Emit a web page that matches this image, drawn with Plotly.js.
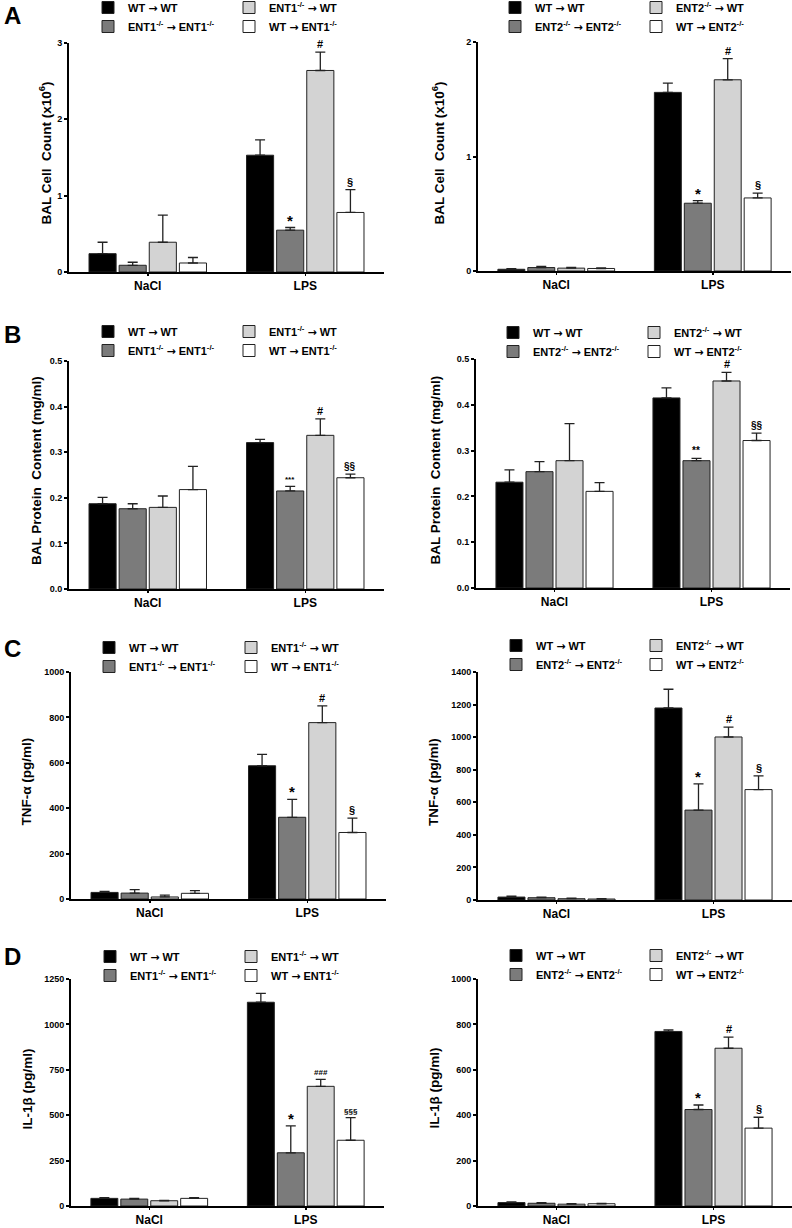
<!DOCTYPE html>
<html><head><meta charset="utf-8">
<script src="https://cdn.plot.ly/plotly-3.0.1.min.js"></script>
<style>body{margin:0;padding:0;background:#fff}#chart{width:792px;height:1228px}</style>
</head><body><div id="chart"></div>
<script>
// ---------------- DATA ----------------
const groups = ['NaCl', 'LPS'];
const ARROW = '<span style="font-family:DejaVu Sans">→</span>';
const namesENT1 = ['WT ' + ARROW + ' WT', 'ENT1<sup>-/-</sup> ' + ARROW + ' ENT1<sup>-/-</sup>', 'ENT1<sup>-/-</sup> ' + ARROW + ' WT', 'WT ' + ARROW + ' ENT1<sup>-/-</sup>'];
const namesENT2 = ['WT ' + ARROW + ' WT', 'ENT2<sup>-/-</sup> ' + ARROW + ' ENT2<sup>-/-</sup>', 'ENT2<sup>-/-</sup> ' + ARROW + ' WT', 'WT ' + ARROW + ' ENT2<sup>-/-</sup>'];

// series order: WT→WT, KO→KO, KO→WT, WT→KO ; each [NaCl, LPS]
const cellENT1_mean = [[0.24, 1.53], [0.088, 0.548], [0.39, 2.64], [0.118, 0.78]];
const cellENT1_err  = [[0.15, 0.20], [0.04, 0.035], [0.355, 0.24], [0.072, 0.30]];
const cellENT2_mean = [[0.015, 1.56], [0.03, 0.592], [0.025, 1.67], [0.022, 0.638]];
const cellENT2_err  = [[0.006, 0.08], [0.01, 0.023], [0.006, 0.184], [0.006, 0.042]];

const protENT1_mean = [[0.187, 0.321], [0.176, 0.215], [0.179, 0.337], [0.218, 0.244]];
const protENT1_err  = [[0.014, 0.007], [0.011, 0.010], [0.025, 0.036], [0.051, 0.008]];
const protENT2_mean = [[0.231, 0.415], [0.254, 0.278], [0.278, 0.452], [0.211, 0.322]];
const protENT2_err  = [[0.027, 0.022], [0.022, 0.005], [0.081, 0.019], [0.019, 0.016]];

const tnfENT1_mean = [[29, 587], [26, 360], [9, 777], [25, 293]];
const tnfENT1_err  = [[5, 50], [15, 79], [8, 74], [12, 63]];
const tnfENT2_mean = [[18, 1179], [14, 552], [8, 1001], [6, 678]];
const tnfENT2_err  = [[6, 115], [4, 161], [3, 60], [2, 84]];

const il1ENT1_mean = [[42, 1122], [38, 293], [29, 659], [42, 362]];
const il1ENT1_err  = [[4, 49], [4, 148], [2, 38], [4, 125]];
const il1ENT2_mean = [[15, 769], [12, 425], [8, 695], [10, 343]];
const il1ENT2_err  = [[3, 7], [3, 20], [2, 49], [2, 48]];

// significance labels above LPS bars (series 0..3)
const sigCell  = ['', '*', '#', '§'];
const sigProt1 = ['', '***', '#', '§§'];
const sigProt2 = ['', '**', '#', '§§'];
const sigTnf   = ['', '*', '#', '§'];
const sigIl1_1 = ['', '*', '###', '§§§'];
const sigIl1_2 = ['', '*', '#', '§'];

const yTitles = ['BAL Cell  Count (x10<sup>6</sup>)', 'BAL Protein  Content (mg/ml)', 'TNF-α (pg/ml)', 'IL-1β (pg/ml)'];
const panelLetters = ['A', 'B', 'C', 'D'];

// ---------------- STYLE / LAYOUT ----------------
const W = 792, H = 1228;
const FONT = 'Arial, "Liberation Sans", Helvetica, sans-serif';
const colors = ['#000000', '#7b7b7b', '#d3d3d3', '#ffffff'];
const BARGAP = 0.235, GROUPGAP = 0.1;

const panels = [
  {mean: cellENT1_mean, err: cellENT1_err, sig: sigCell,  names: namesENT1, t: 0, ymax: 3,    dtick: 1,   fmt: '',    dom: [69, 384, 43, 272],  leg: [104, 245, 8],   tx: 45},
  {mean: cellENT2_mean, err: cellENT2_err, sig: sigCell,  names: namesENT2, t: 0, ymax: 2,    dtick: 1,   fmt: '',    dom: [478, 791, 42, 271], leg: [511, 652, 8],   tx: 438},
  {mean: protENT1_mean, err: protENT1_err, sig: sigProt1, names: namesENT1, t: 1, ymax: 0.5,  dtick: 0.1, fmt: '.1f', dom: [69, 384, 361, 589], leg: [104, 245, 332], tx: 36},
  {mean: protENT2_mean, err: protENT2_err, sig: sigProt2, names: namesENT2, t: 1, ymax: 0.5,  dtick: 0.1, fmt: '.1f', dom: [476, 790, 359, 588], leg: [509, 650, 333], tx: 435},
  {mean: tnfENT1_mean,  err: tnfENT1_err,  sig: sigTnf,   names: namesENT1, t: 2, ymax: 1000, dtick: 200, fmt: '',    dom: [71, 386, 672, 899], leg: [105, 247, 648], tx: 26},
  {mean: tnfENT2_mean,  err: tnfENT2_err,  sig: sigTnf,   names: namesENT2, t: 2, ymax: 1400, dtick: 200, fmt: '',    dom: [478, 792, 672, 900], leg: [512, 652, 646], tx: 434},
  {mean: il1ENT1_mean,  err: il1ENT1_err,  sig: sigIl1_1, names: namesENT1, t: 3, ymax: 1250, dtick: 250, fmt: '',    dom: [71, 384, 979, 1206], leg: [106, 247, 957], tx: 27},
  {mean: il1ENT2_mean,  err: il1ENT2_err,  sig: sigIl1_2, names: namesENT2, t: 3, ymax: 1000, dtick: 200, fmt: '',    dom: [478, 792, 979, 1206], leg: [512, 652, 956], tx: 434}
];
const letterPos = [[2, 15], [2, 334], [2, 648], [2, 956]];

const px = p => p / W;
const py = p => 1 - p / H;

const traces = [];
const layout = {
  width: W, height: H,
  margin: {l: 0, r: 0, t: 0, b: 0, autoexpand: false},
  paper_bgcolor: '#ffffff', plot_bgcolor: '#ffffff',
  barmode: 'group', bargap: BARGAP, bargroupgap: GROUPGAP,
  font: {family: FONT, color: '#000'},
  annotations: [],
  showlegend: true
};

function legId(k) { return k === 1 ? 'legend' : 'legend' + k; }

panels.forEach((p, i) => {
  const n = i + 1;
  const xa = n === 1 ? 'xaxis' : 'xaxis' + n;
  const ya = n === 1 ? 'yaxis' : 'yaxis' + n;
  const xr = n === 1 ? 'x' : 'x' + n;
  const yr = n === 1 ? 'y' : 'y' + n;
  const [x0, x1, y0, y1] = p.dom;
  layout[xa] = {
    domain: [px(x0), px(x1)], anchor: yr, type: 'category',
    range: [-0.5, 1.5], showline: true, linewidth: 2, linecolor: '#000',
    ticks: 'outside', ticklen: 2, tickwidth: 1.5, tickcolor: '#000',
    tickfont: {family: FONT, size: 12, weight: 'bold', color: '#000'},
    showgrid: false, zeroline: false, fixedrange: true
  };
  layout[ya] = {
    domain: [py(y1), py(y0)], anchor: xr,
    range: [0, p.ymax], dtick: p.dtick, tick0: 0, tickformat: p.fmt,
    showline: true, linewidth: 2, linecolor: '#000',
    ticks: 'outside', ticklen: 3, tickwidth: 2, tickcolor: '#000',
    tickfont: {family: FONT, size: 9, weight: 'bold', color: '#000'},
    showgrid: false, zeroline: false, fixedrange: true
  };
  // legends: two columns
  const legA = legId(2 * n - 1), legB = legId(2 * n);
  const legCommon = {
    orientation: 'v', xanchor: 'left', yanchor: 'top',
    bgcolor: 'rgba(0,0,0,0)', borderwidth: 0, tracegroupgap: 0,
    font: {family: FONT, size: 11, weight: 'bold', color: '#000'},
    itemclick: false, itemdoubleclick: false
  };
  layout[legA] = Object.assign({x: px(p.leg[0] - 16), y: py(p.leg[2] - 15)}, legCommon);
  layout[legB] = Object.assign({x: px(p.leg[1] - 16), y: py(p.leg[2] - 15)}, legCommon);

  p.mean.forEach((m, s) => {
    traces.push({
      type: 'bar', x: groups, y: m, name: p.names[s],
      xaxis: xr, yaxis: yr,
      legend: (s < 2) ? legA : legB,
      marker: {color: colors[s], line: {color: '#222', width: 1}},
      error_y: {type: 'data', array: p.err[s], arrayminus: p.err[s].map(() => 0), symmetric: false,
                color: '#222', thickness: 1.3, width: 5},
      hoverinfo: 'skip'
    });
  });

  // significance markers over LPS bars
  const slot = (1 - BARGAP) / 4;
  p.sig.forEach((lab, s) => {
    if (!lab) return;
    let size = 11;
    if (lab === '*') size = 15;
    else if (lab.length === 2) size = 10;
    else if (lab.length === 3) size = 8;
    layout.annotations.push({
      xref: xr, yref: yr, x: 1 + (s - 1.5) * slot, y: p.mean[s][1] + p.err[s][1],
      text: lab, showarrow: false, yanchor: 'bottom', xanchor: 'center', yshift: lab === '*' ? -3 : 0,
      font: {family: FONT, size: size, weight: 'bold', color: '#000'}
    });
  });

  // y title
  layout.annotations.push({
    xref: 'paper', yref: 'paper', x: px(p.tx), y: py((y0 + y1) / 2 - 4),
    text: yTitles[p.t], textangle: -90, showarrow: false, xanchor: 'center', yanchor: 'middle',
    font: {family: FONT, size: 13.5, weight: 'bold', color: '#000'}
  });
});

panelLetters.forEach((L, i) => {
  layout.annotations.push({
    xref: 'paper', yref: 'paper', x: px(letterPos[i][0]), y: py(letterPos[i][1]),
    text: L, showarrow: false, xanchor: 'left', yanchor: 'middle',
    font: {family: FONT, size: 24, weight: 'bold', color: '#000'}
  });
});

Plotly.newPlot('chart', traces, layout, {staticPlot: true, displayModeBar: false});
</script>
</body></html>
